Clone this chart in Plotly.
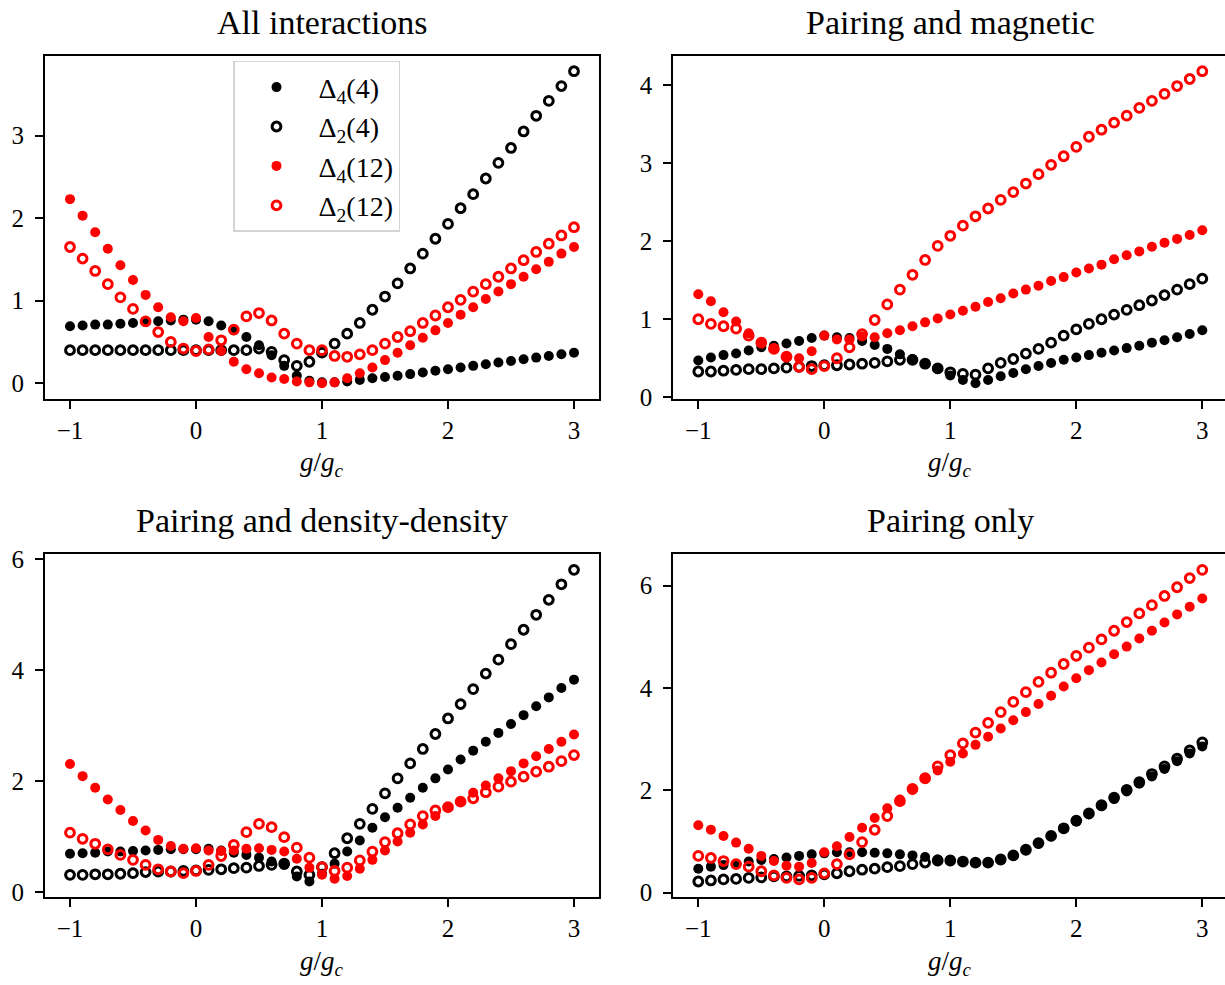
import plotly.graph_objects as go

# ---------------- data ----------------
g = [-1.0, -0.9, -0.8, -0.7, -0.6, -0.5, -0.4, -0.3, -0.2, -0.1,
     0.0, 0.1, 0.2, 0.3, 0.4, 0.5, 0.6, 0.7, 0.8, 0.9,
     1.0, 1.1, 1.2, 1.3, 1.4, 1.5, 1.6, 1.7, 1.8, 1.9,
     2.0, 2.1, 2.2, 2.3, 2.4, 2.5, 2.6, 2.7, 2.8, 2.9, 3.0]

titles = ["All interactions", "Pairing and magnetic",
          "Pairing and density-density", "Pairing only"]
series_names = ["Δ<sub>4</sub>(4)", "Δ<sub>2</sub>(4)",
                "Δ<sub>4</sub>(12)", "Δ<sub>2</sub>(12)"]

# All interactions
all_d4_4 = [0.69, 0.70, 0.71, 0.71, 0.72, 0.73, 0.74, 0.75, 0.76, 0.77,
            0.77, 0.75, 0.70, 0.64, 0.56, 0.46, 0.34, 0.21, 0.09, 0.03,
            0.01, 0.01, 0.02, 0.04, 0.06, 0.075, 0.09, 0.11, 0.13, 0.15,
            0.17, 0.19, 0.21, 0.23, 0.25, 0.27, 0.29, 0.31, 0.33, 0.35, 0.37]
all_d2_4 = [0.40, 0.40, 0.40, 0.40, 0.40, 0.40, 0.40, 0.40, 0.40, 0.40,
            0.40, 0.40, 0.40, 0.40, 0.40, 0.42, 0.38, 0.28, 0.21, 0.26,
            0.37, 0.48, 0.60, 0.73, 0.89, 1.05, 1.21, 1.39, 1.57, 1.75,
            1.93, 2.12, 2.29, 2.48, 2.67, 2.85, 3.05, 3.24, 3.42, 3.60, 3.78]
all_d4_12 = [2.23, 2.03, 1.83, 1.63, 1.43, 1.25, 1.07, 0.92, 0.80, 0.75,
             0.79, 0.56, 0.39, 0.26, 0.17, 0.12, 0.07, 0.05, 0.02, 0.01,
             0.00, 0.01, 0.06, 0.12, 0.19, 0.28, 0.37, 0.46, 0.55, 0.64,
             0.73, 0.83, 0.92, 1.02, 1.11, 1.20, 1.29, 1.38, 1.47, 1.57, 1.65]
all_d2_12 = [1.65, 1.51, 1.36, 1.20, 1.04, 0.90, 0.75, 0.62, 0.50, 0.42,
             0.39, 0.41, 0.52, 0.65, 0.81, 0.85, 0.76, 0.60, 0.48, 0.40,
             0.40, 0.33, 0.32, 0.35, 0.40, 0.48, 0.56, 0.63, 0.73, 0.82,
             0.92, 1.01, 1.11, 1.20, 1.29, 1.39, 1.49, 1.59, 1.69, 1.79, 1.89]

# Pairing and magnetic
mag_d4_4 = [0.47, 0.51, 0.54, 0.56, 0.60, 0.64, 0.66, 0.69, 0.72, 0.76,
            0.79, 0.77, 0.76, 0.72, 0.67, 0.62, 0.55, 0.49, 0.43, 0.36,
            0.28, 0.22, 0.18, 0.22, 0.27, 0.31, 0.36, 0.40, 0.44, 0.48,
            0.51, 0.54, 0.57, 0.60, 0.63, 0.66, 0.70, 0.73, 0.77, 0.81, 0.86]
mag_d2_4 = [0.33, 0.33, 0.34, 0.35, 0.36, 0.36, 0.37, 0.38, 0.39, 0.40,
            0.41, 0.41, 0.42, 0.43, 0.44, 0.46, 0.48, 0.48, 0.43, 0.37,
            0.32, 0.30, 0.29, 0.37, 0.44, 0.49, 0.56, 0.62, 0.70, 0.79,
            0.87, 0.94, 1.00, 1.06, 1.12, 1.18, 1.24, 1.31, 1.38, 1.45, 1.52]
mag_d4_12 = [1.32, 1.23, 1.09, 0.97, 0.82, 0.70, 0.62, 0.51, 0.50, 0.59,
             0.79, 0.74, 0.74, 0.78, 0.77, 0.82, 0.86, 0.91, 0.96, 1.01,
             1.06, 1.11, 1.16, 1.22, 1.27, 1.33, 1.38, 1.43, 1.49, 1.54,
             1.60, 1.65, 1.70, 1.77, 1.82, 1.87, 1.93, 1.98, 2.03, 2.08, 2.14]
mag_d2_12 = [1.00, 0.94, 0.91, 0.88, 0.79, 0.70, 0.62, 0.52, 0.39, 0.36,
             0.40, 0.50, 0.64, 0.81, 0.99, 1.19, 1.38, 1.57, 1.76, 1.94,
             2.07, 2.20, 2.32, 2.42, 2.53, 2.63, 2.74, 2.86, 2.98, 3.09,
             3.21, 3.34, 3.43, 3.52, 3.61, 3.71, 3.80, 3.89, 3.99, 4.08, 4.18]

# Pairing and density-density
den_d4_4 = [0.69, 0.70, 0.71, 0.73, 0.73, 0.74, 0.75, 0.76, 0.77, 0.77,
            0.77, 0.78, 0.75, 0.71, 0.67, 0.62, 0.55, 0.49, 0.28, 0.19,
            0.33, 0.51, 0.73, 0.93, 1.16, 1.35, 1.52, 1.70, 1.88, 2.05,
            2.21, 2.39, 2.55, 2.71, 2.87, 3.03, 3.19, 3.35, 3.51, 3.68, 3.83]
den_d2_4 = [0.31, 0.31, 0.32, 0.32, 0.33, 0.34, 0.36, 0.37, 0.37, 0.38,
            0.39, 0.40, 0.41, 0.43, 0.44, 0.47, 0.49, 0.51, 0.37, 0.31,
            0.45, 0.70, 0.97, 1.23, 1.50, 1.78, 2.05, 2.32, 2.58, 2.85,
            3.13, 3.39, 3.66, 3.94, 4.19, 4.47, 4.73, 5.00, 5.27, 5.55, 5.81]
den_d4_12 = [2.31, 2.09, 1.88, 1.67, 1.48, 1.28, 1.11, 0.94, 0.83, 0.78,
             0.79, 0.75, 0.74, 0.75, 0.78, 0.79, 0.76, 0.73, 0.60, 0.44,
             0.31, 0.24, 0.29, 0.42, 0.58, 0.75, 0.91, 1.07, 1.22, 1.37,
             1.52, 1.63, 1.79, 1.92, 2.05, 2.18, 2.32, 2.45, 2.58, 2.71, 2.84]
den_d2_12 = [1.07, 0.96, 0.87, 0.77, 0.67, 0.58, 0.49, 0.41, 0.37, 0.34,
             0.38, 0.49, 0.65, 0.85, 1.08, 1.23, 1.17, 0.99, 0.80, 0.62,
             0.45, 0.38, 0.44, 0.57, 0.73, 0.90, 1.06, 1.22, 1.37, 1.47,
             1.53, 1.63, 1.69, 1.80, 1.90, 1.99, 2.08, 2.17, 2.26, 2.36, 2.47]

# Pairing only
pair_d4_4 = [0.47, 0.51, 0.54, 0.56, 0.61, 0.64, 0.66, 0.69, 0.72, 0.75,
             0.77, 0.79, 0.79, 0.79, 0.78, 0.77, 0.75, 0.73, 0.70, 0.65,
             0.64, 0.61, 0.58, 0.59, 0.64, 0.72, 0.83, 0.96, 1.10, 1.25,
             1.39, 1.53, 1.69, 1.83, 1.98, 2.13, 2.27, 2.42, 2.57, 2.72, 2.86]
pair_d2_4 = [0.22, 0.24, 0.26, 0.27, 0.29, 0.30, 0.32, 0.32, 0.33, 0.34,
             0.36, 0.38, 0.42, 0.45, 0.47, 0.50, 0.52, 0.56, 0.59, 0.63,
             0.63, 0.61, 0.59, 0.59, 0.65, 0.73, 0.84, 0.97, 1.11, 1.26,
             1.41, 1.55, 1.71, 1.86, 2.01, 2.16, 2.32, 2.47, 2.62, 2.78, 2.94]
pair_d4_12 = [1.32, 1.23, 1.11, 0.98, 0.86, 0.72, 0.62, 0.53, 0.51, 0.58,
              0.79, 0.91, 1.09, 1.27, 1.46, 1.65, 1.82, 2.01, 2.22, 2.39,
              2.56, 2.72, 2.89, 3.05, 3.21, 3.37, 3.53, 3.69, 3.85, 4.03,
              4.19, 4.35, 4.50, 4.66, 4.81, 4.97, 5.12, 5.28, 5.44, 5.59, 5.75]
pair_d2_12 = [0.72, 0.68, 0.62, 0.56, 0.51, 0.42, 0.34, 0.29, 0.26, 0.29,
              0.38, 0.56, 0.75, 0.99, 1.23, 1.50, 1.79, 2.03, 2.24, 2.47,
              2.69, 2.92, 3.13, 3.32, 3.53, 3.73, 3.92, 4.12, 4.30, 4.47,
              4.63, 4.79, 4.95, 5.12, 5.29, 5.46, 5.62, 5.80, 5.97, 6.15, 6.31]

x_tickvals = [-1, 0, 1, 2, 3]
x_ticktext = ["−1", "0", "1", "2", "3"]
y_ticks = [[0, 1, 2, 3], [0, 1, 2, 3, 4], [0, 2, 4, 6], [0, 2, 4, 6]]

panels = [
    [all_d4_4, all_d2_4, all_d4_12, all_d2_12],
    [mag_d4_4, mag_d2_4, mag_d4_12, mag_d2_12],
    [den_d4_4, den_d2_4, den_d4_12, den_d2_12],
    [pair_d4_4, pair_d2_4, pair_d4_12, pair_d2_12],
]

# ---------------- styling ----------------
W, H = 1225, 985
FONT = "Liberation Serif"
colors = ["black", "black", "#ff0000", "#ff0000"]
filled = [True, False, True, False]

# axes boxes in pixels (left, right, top, bottom)
boxes = [
    (44.8, 599.2, 48.6, 398.9),
    (673.1, 1225.0, 48.6, 398.9),
    (44.8, 599.2, 557.6, 907.5),
    (673.1, 1225.0, 557.6, 907.5),
]
px_per_unit_x = 126.0

fig = go.Figure()

for p, series in enumerate(panels):
    xa = "x" if p == 0 else f"x{p+1}"
    ya = "y" if p == 0 else f"y{p+1}"
    for s, vals in enumerate(series):
        if filled[s]:
            marker = dict(symbol="circle", size=10, color=colors[s],
                          line=dict(width=0))
        else:
            marker = dict(symbol="circle-open", size=8.8, color=colors[s],
                          line=dict(width=3.0, color=colors[s]))
        fig.add_trace(go.Scatter(
            x=g, y=vals, mode="markers", marker=marker,
            name=series_names[s], xaxis=xa, yaxis=ya,
            showlegend=(p == 0), legendgroup=f"g{s}",
        ))

axis_common = dict(
    showline=True, linecolor="black", linewidth=1.6,
    ticks="outside", ticklen=8, tickwidth=1.6, tickcolor="black",
    showgrid=False, zeroline=False,
    tickfont=dict(family=FONT, size=25, color="black"),
)

layout = {}
for p in range(4):
    l, r, t, b = boxes[p]
    allv = [v for s in panels[p] for v in s]
    lo, hi = min(allv), max(allv)
    pad = 0.05 * (hi - lo)
    xspan = (r - l) / px_per_unit_x
    xkey = "xaxis" if p == 0 else f"xaxis{p+1}"
    ykey = "yaxis" if p == 0 else f"yaxis{p+1}"
    ya = "y" if p == 0 else f"y{p+1}"
    xa = "x" if p == 0 else f"x{p+1}"
    layout[xkey] = dict(axis_common, domain=[l / W, r / W], anchor=ya,
                        range=[-1.2, -1.2 + xspan], mirror=True,
                        tickvals=x_tickvals, ticktext=x_ticktext,
                        ticklabelstandoff=0)
    layout[ykey] = dict(axis_common, domain=[1 - b / H, 1 - t / H], anchor=xa,
                        range=[lo - pad, hi + pad],
                        mirror=(p in (0, 2)),
                        tickvals=y_ticks[p],
                        ticktext=[str(v) for v in y_ticks[p]],
                        ticklabelstandoff=6)

annotations = []
for p in range(4):
    l, r, t, b = boxes[p]
    cx = (l + 1227.0) / 2 if p in (1, 3) else (l + r) / 2
    annotations.append(dict(
        text=titles[p], x=cx / W, y=1 - (t - 34) / H, xref="paper", yref="paper",
        xanchor="center", yanchor="middle", showarrow=False,
        font=dict(family=FONT, size=34, color="black")))
    annotations.append(dict(
        text="<i>g</i>/<i>g</i><sub><i>c</i></sub>", x=cx / W, y=1 - (b + 67) / H,
        xref="paper", yref="paper", xanchor="center", yanchor="middle",
        showarrow=False, font=dict(family=FONT, size=27, color="black")))

fig.update_layout(
    **layout,
    annotations=annotations,
    width=W, height=H,
    margin=dict(l=0, r=0, t=0, b=0),
    paper_bgcolor="white", plot_bgcolor="white",
    font=dict(family=FONT, color="black"),
    legend=dict(
        x=233 / W, y=1 - 54 / H, xanchor="left", yanchor="top",
        bgcolor="white", bordercolor="#d4d4d4", borderwidth=1.5,
        font=dict(family=FONT, size=28, color="black"),
        tracegroupgap=0, itemwidth=74,
    ),
)

fig.write_html(
    "out.html",
    config={"displayModeBar": False},
    post_script="document.body.style.margin='0';document.body.style.padding='0';",
)
